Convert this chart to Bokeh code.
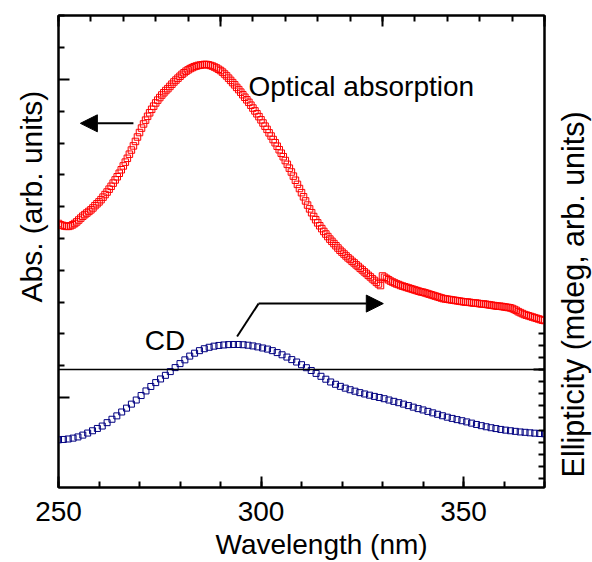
import numpy as np
from bokeh.plotting import figure
from bokeh.layouts import row
from bokeh.models import Range1d, LinearAxis, FixedTicker, Span, Label, Arrow, NormalHead, Title
from bokeh.embed import file_html
from bokeh.resources import INLINE

# ---------------- data ----------------
abs_signal = [
    0.547, 0.543, 0.541, 0.539, 0.538, 0.538, 0.540, 0.543, 0.547, 0.552,
    0.558, 0.564, 0.570, 0.575, 0.580, 0.585, 0.590, 0.596, 0.603, 0.609,
    0.615, 0.622, 0.630, 0.638, 0.646, 0.655, 0.664, 0.674, 0.684, 0.694,
    0.705, 0.716, 0.728, 0.740, 0.752, 0.765, 0.778, 0.791, 0.805, 0.819,
    0.833, 0.847, 0.860, 0.872, 0.884, 0.895, 0.906, 0.916, 0.926, 0.935,
    0.943, 0.951, 0.958, 0.965, 0.971, 0.978, 0.985, 0.992, 0.998, 1.004,
    1.010, 1.016, 1.021, 1.026, 1.030, 1.034, 1.037, 1.040, 1.042, 1.044,
    1.045, 1.046, 1.047, 1.047, 1.046, 1.044, 1.042, 1.039, 1.036, 1.032,
    1.028, 1.023, 1.017, 1.011, 1.004, 0.997, 0.990, 0.983, 0.975, 0.968,
    0.960, 0.952, 0.944, 0.936, 0.928, 0.919, 0.910, 0.901, 0.892, 0.883,
    0.873, 0.863, 0.853, 0.843, 0.832, 0.822, 0.811, 0.801, 0.790, 0.779,
    0.768, 0.757, 0.745, 0.733, 0.721, 0.709, 0.696, 0.683, 0.670, 0.657,
    0.644, 0.631, 0.618, 0.605, 0.593, 0.581, 0.569, 0.559, 0.549, 0.540,
    0.531, 0.522, 0.514, 0.506, 0.498, 0.491, 0.484, 0.477, 0.470, 0.463,
    0.457, 0.451, 0.445, 0.439, 0.434, 0.428, 0.423, 0.417, 0.412, 0.406,
    0.401, 0.395, 0.390, 0.384, 0.379, 0.373, 0.368, 0.362, 0.357, 0.352,
    0.382, 0.378, 0.374, 0.370, 0.366, 0.363, 0.360, 0.357, 0.355, 0.352,
    0.350, 0.348, 0.346, 0.344, 0.342, 0.340, 0.338, 0.336, 0.334, 0.332,
    0.331, 0.329, 0.327, 0.325, 0.323, 0.321, 0.319, 0.317, 0.315, 0.313,
    0.311, 0.310, 0.309, 0.308, 0.307, 0.306, 0.305, 0.304, 0.303, 0.302,
    0.301, 0.300, 0.300, 0.299, 0.298, 0.297, 0.297, 0.296, 0.295, 0.294,
    0.294, 0.293, 0.292, 0.291, 0.290, 0.289, 0.288, 0.287, 0.287, 0.286,
    0.285, 0.284, 0.283, 0.282, 0.280, 0.277, 0.274, 0.270, 0.267, 0.264,
    0.261, 0.259, 0.257, 0.255, 0.253, 0.251, 0.249, 0.247, 0.245, 0.243,
    0.242,
]
abs_wavelength = np.linspace(250, 370, len(abs_signal))  # 0.5 nm sampling grid

cd_signal = [
    -5.81, -5.78, -5.74, -5.67, -5.57, -5.42, -5.25, -5.06, -4.87, -4.67,
    -4.39, -4.11, -3.83, -3.51, -3.19, -2.86, -2.52, -2.15, -1.77, -1.40,
    -1.08, -0.78, -0.48, -0.17, 0.16, 0.49, 0.80, 1.11, 1.35, 1.56,
    1.72, 1.84, 1.93, 1.99, 2.03, 2.06, 2.07, 2.07, 2.05, 2.01,
    1.95, 1.87, 1.78, 1.69, 1.56, 1.40, 1.22, 1.03, 0.82, 0.62,
    0.40, 0.15, -0.08, -0.32, -0.56, -0.80, -1.03, -1.22, -1.39, -1.54,
    -1.67, -1.79, -1.91, -2.02, -2.12, -2.22, -2.31, -2.41, -2.52, -2.63,
    -2.74, -2.86, -2.98, -3.11, -3.23, -3.34, -3.46, -3.58, -3.70, -3.82,
    -3.94, -4.04, -4.14, -4.23, -4.33, -4.43, -4.54, -4.64, -4.73, -4.81,
    -4.88, -4.95, -5.01, -5.06, -5.11, -5.16, -5.19, -5.23, -5.26, -5.29,
    -5.31,
]
cd_wavelength = np.linspace(250, 370, len(cd_signal))  # uniform sampling grid

x_major = [250, 300, 350]
x_minor = list(range(250, 371, 10))
top_major = [250, 290, 330, 370]
top_minor = list(range(250, 371, 8))
left_major = [0.0, 1.0]
left_minor = [0.1, 0.2, 0.3, 0.4, 0.5, 0.6, 0.7, 0.8, 0.9, 1.1, 1.2]
right_major = [0]
right_minor = list(range(-9, 4))

FONT = "Liberation Sans"

# ---------------- main figure ----------------
p = figure(width=552, height=562, output_backend="svg", toolbar_location=None,
           x_range=Range1d(250, 370), y_range=Range1d(-0.283, 1.201),
           min_border_left=58, min_border_right=8, min_border_top=15, min_border_bottom=75)
p.extra_y_ranges = {"cd": Range1d(-9.75, 29.26)}
p.grid.visible = False
p.outline_line_color = "black"
p.outline_line_width = 2
p.background_fill_color = "white"
p.border_fill_color = "white"

def style_axis(ax, hide_labels=True):
    ax.axis_line_width = 2
    ax.major_tick_in = 11
    ax.major_tick_out = 0
    ax.minor_tick_in = 6
    ax.minor_tick_out = 0
    ax.major_tick_line_width = 2
    ax.minor_tick_line_width = 2
    ax.major_label_text_font = FONT
    if hide_labels:
        ax.major_label_text_font_size = "1px"
        ax.major_label_text_color = None
        ax.major_label_standoff = 0

# bottom axis
bx = p.xaxis[0]
bx.ticker = FixedTicker(ticks=x_major, minor_ticks=x_minor)
style_axis(bx, hide_labels=False)
bx.major_label_text_font_size = "28px"
bx.major_label_text_color = "black"
bx.major_label_standoff = 14

# left axis
ly = p.yaxis[0]
ly.ticker = FixedTicker(ticks=left_major, minor_ticks=left_minor)
style_axis(ly)

# top axis
tx = LinearAxis(ticker=FixedTicker(ticks=top_major, minor_ticks=top_minor))
style_axis(tx)
p.add_layout(tx, "above")

# right axis (CD)
ry = LinearAxis(y_range_name="cd", ticker=FixedTicker(ticks=right_major, minor_ticks=right_minor))
style_axis(ry)
p.add_layout(ry, "right")

# axis titles as side titles (with the reference's offsets)
p.add_layout(Title(text="Abs. (arb. units)", align="left", offset=185, standoff=22,
                   text_font=FONT, text_font_size="30px", text_font_style="normal",
                   text_color="black"), "left")
p.add_layout(Title(text="Wavelength (nm)", align="left", offset=157, standoff=6,
                   text_font=FONT, text_font_size="28px", text_font_style="normal",
                   text_color="black"), "below")

# CD zero line
p.add_layout(Span(location=0, dimension="width", y_range_name="cd",
                  line_color="black", line_width=1.5))

# data
p.scatter(abs_wavelength, abs_signal, marker="square", size=6.5,
          fill_color=None, line_color="#ff0000", line_width=1)
p.scatter(cd_wavelength, cd_signal, marker="square", size=6, y_range_name="cd",
          fill_color=None, line_color="#000080", line_width=1)

# arrows
p.add_layout(Arrow(end=NormalHead(size=17, fill_color="black", line_color="black"),
                   x_start=268.5, y_start=0.862, x_end=255.4, y_end=0.862,
                   line_width=2, line_color="black"))
p.add_layout(Arrow(end=None, x_start=294.1, y_start=2.73, x_end=299.4, y_end=5.45,
                   y_range_name="cd", line_width=2, line_color="black"))
p.add_layout(Arrow(end=NormalHead(size=17, fill_color="black", line_color="black"),
                   x_start=299.4, y_start=5.45, x_end=330.2, y_end=5.45,
                   y_range_name="cd", line_width=2, line_color="black"))

# text labels
p.add_layout(Label(x=296.9, y=0.978, text="Optical absorption", text_font=FONT,
                   text_font_size="28px", text_color="black",
                   text_align="left", text_baseline="alphabetic"))
p.add_layout(Label(x=271.3, y=2.40, y_range_name="cd", text="CD", text_font=FONT,
                   text_font_size="28px", text_color="black",
                   text_align="left", text_baseline="alphabetic"))

# ---------------- right-hand title strip (reads bottom-to-top) ----------------
strip = figure(width=40, height=562, output_backend="svg", toolbar_location=None,
               x_range=Range1d(0, 40), y_range=Range1d(0, 562),
               x_axis_location=None, y_axis_location=None,
               min_border_left=0, min_border_right=0, min_border_top=0, min_border_bottom=0)
strip.grid.visible = False
strip.outline_line_color = None
strip.background_fill_color = "white"
strip.border_fill_color = "white"
strip.add_layout(Label(x=20, y=230, text="Ellipticity (mdeg, arb. units)", text_font=FONT,
                       text_font_size="30.5px", text_color="black", text_align="center",
                       text_baseline="alphabetic", angle=np.pi / 2))

layout = row(p, strip, spacing=0)

with open("out.html", "w") as f:
    f.write(file_html(layout, INLINE))
